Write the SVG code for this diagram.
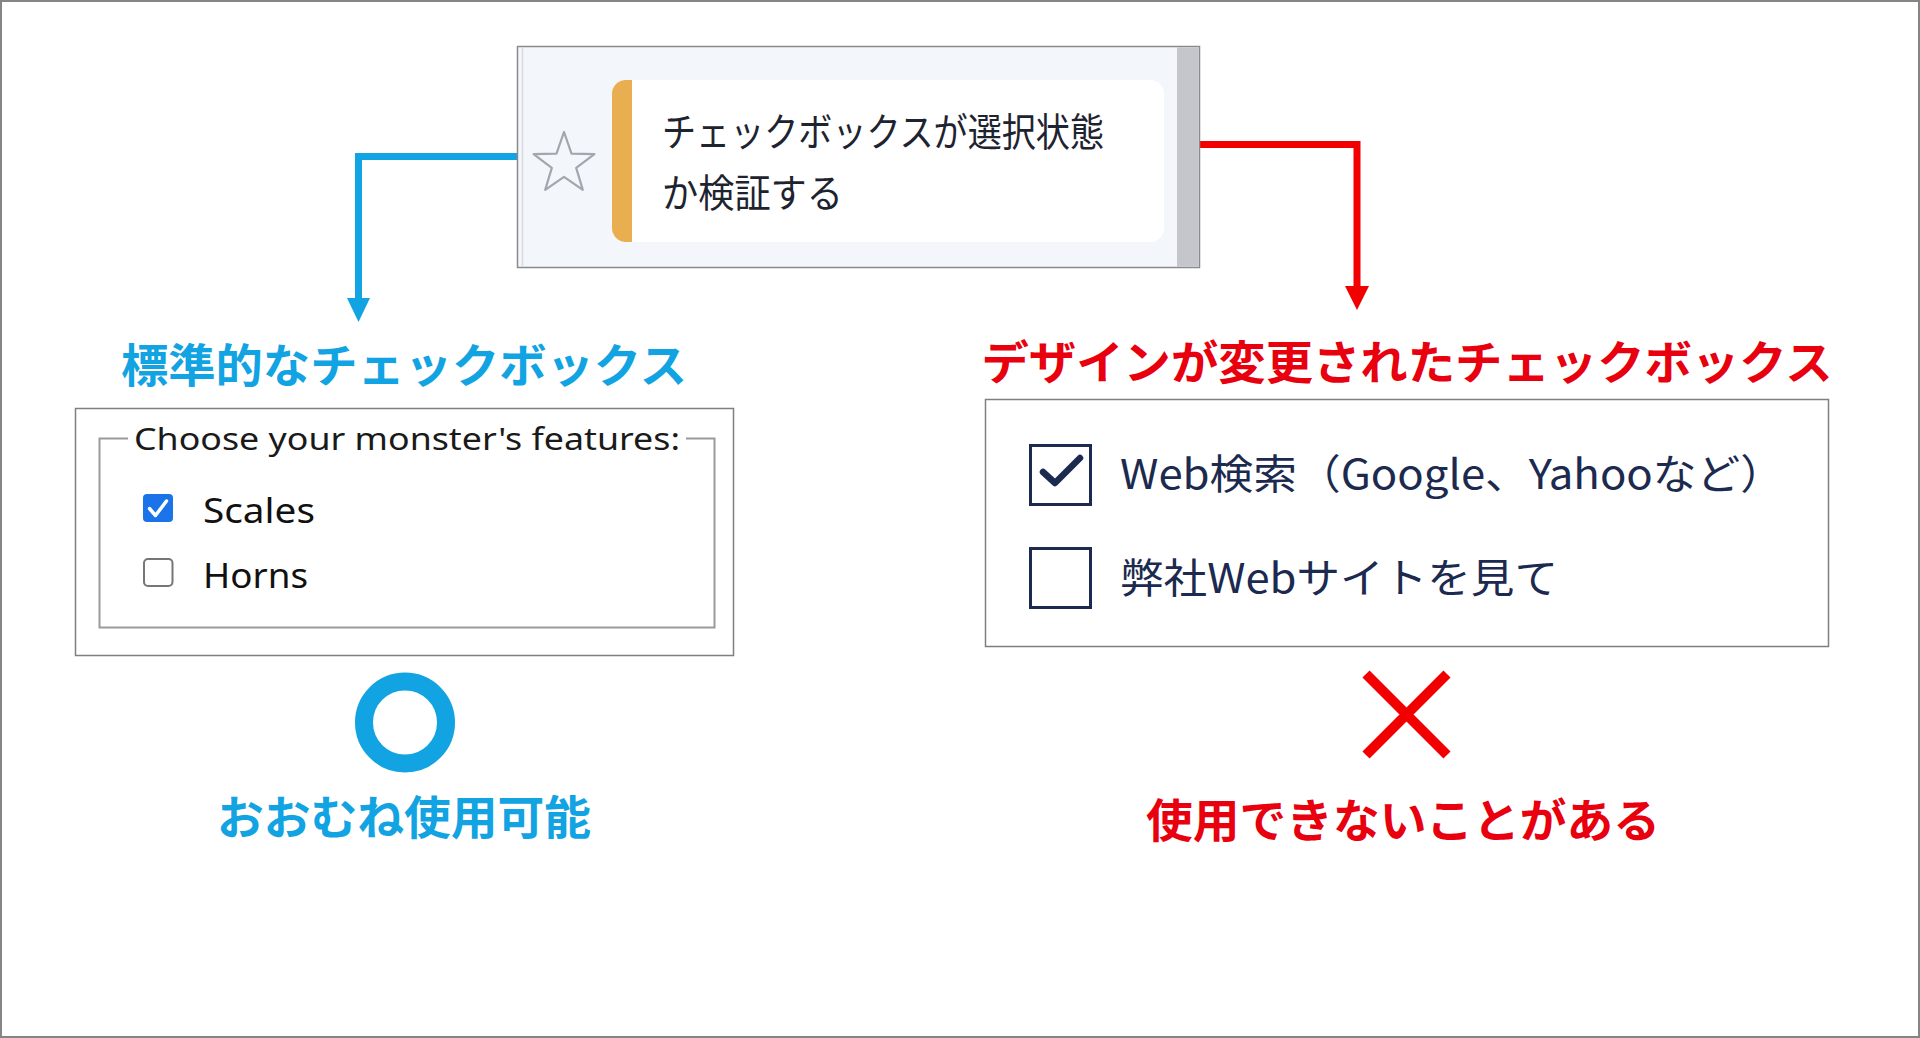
<svg xmlns="http://www.w3.org/2000/svg" width="1920" height="1038" viewBox="0 0 1920 1038">
<defs>
<style>
.jp{font-family:"Noto Sans CJK JP","Noto Sans",sans-serif;}
.en{font-family:"Noto Sans","Liberation Sans",sans-serif;}
.title{font-size:46px;font-weight:bold;}
.blue{fill:#12a3e2;}
.red{fill:#e8000f;}
.navy{fill:#1c2a4f;}
.panel{fill:#ffffff;stroke:#7f7f7f;stroke-width:1.5;}
</style>
<marker id="arrBlue" markerUnits="userSpaceOnUse" markerWidth="24" markerHeight="24" refX="0" refY="11.5" orient="auto" viewBox="0 0 24 23">
<path d="M0,0 L24,11.5 L0,23 Z" fill="#12a3e2"/>
</marker>
<marker id="arrRed" markerUnits="userSpaceOnUse" markerWidth="24" markerHeight="24" refX="0" refY="12" orient="auto" viewBox="0 0 24 24">
<path d="M0,0 L24,12 L0,24 Z" fill="#f20000"/>
</marker>
</defs>
<rect x="0" y="0" width="1920" height="1038" fill="#ffffff"/>
<rect x="1" y="1" width="1918" height="1036" fill="none" stroke="#858585" stroke-width="2"/>

<g id="connectors" fill="none" stroke-width="7">
<path d="M517,156.5 H358.5 V298" stroke="#12a3e2" marker-end="url(#arrBlue)"/>
<path d="M1197,144.5 H1357 V286" stroke="#f20000" marker-end="url(#arrRed)"/>
</g>

<g id="task-card">
<rect x="517.5" y="46.5" width="682" height="221" fill="#f3f6fb" stroke="#8a8a8a" stroke-width="1.5"/>
<line x1="522.5" y1="47" x2="522.5" y2="267" stroke="#d6d8dd" stroke-width="1.5"/>
<rect x="1177" y="47.3" width="21.7" height="219.5" fill="#c4c6cc"/>
<rect x="612" y="80" width="552" height="162" rx="14" fill="#ffffff"/>
<path d="M632,80 V242 H626 A14,14 0 0 1 612,228 V94 A14,14 0 0 1 626,80 Z" fill="#e8ae4f"/>
<polygon points="564,132 571.5,153.6 594.4,154.1 576.2,167.9 582.8,189.9 564,176.8 545.2,189.9 551.8,167.9 533.6,154.1 556.5,153.6" fill="none" stroke="#a2a6ae" stroke-width="2.2" stroke-linejoin="round"/>
<text class="jp" x="662" y="146" font-size="39" fill="#1e2330" textLength="442" lengthAdjust="spacingAndGlyphs">チェックボックスが選択状態</text>
<text class="jp" x="662" y="207" font-size="39" fill="#1e2330" textLength="181" lengthAdjust="spacingAndGlyphs">か検証する</text>
</g>

<g id="standard-checkbox">
<text class="jp title blue" x="404" y="382" text-anchor="middle" textLength="566" lengthAdjust="spacingAndGlyphs">標準的なチェックボックス</text>
<rect class="panel" x="75.5" y="408.5" width="658" height="247"/>
<rect x="99.5" y="438.5" width="615" height="189" fill="none" stroke="#9a9a9a" stroke-width="2"/>
<rect x="128" y="425" width="558" height="30" fill="#ffffff"/>
<text class="en" x="134" y="450" font-size="31" fill="#1a1a1a" textLength="546" lengthAdjust="spacingAndGlyphs">Choose your monster's features:</text>
<rect x="143" y="494" width="30" height="28" rx="4" fill="#1a73e8"/>
<path d="M149.5,508.5 L155.5,515.5 L166.5,501" fill="none" stroke="#ffffff" stroke-width="3.5" stroke-linecap="round" stroke-linejoin="round"/>
<text class="en" x="203" y="523" font-size="35" fill="#111111" textLength="112" lengthAdjust="spacingAndGlyphs">Scales</text>
<rect x="144" y="559" width="28.5" height="27" rx="4" fill="#ffffff" stroke="#767676" stroke-width="2"/>
<text class="en" x="203" y="588" font-size="35" fill="#111111" textLength="105" lengthAdjust="spacingAndGlyphs">Horns</text>
</g>

<g id="custom-checkbox">
<text class="jp title red" x="1407" y="378.5" text-anchor="middle" textLength="851" lengthAdjust="spacingAndGlyphs">デザインが変更されたチェックボックス</text>
<rect class="panel" x="985.5" y="399.5" width="843" height="247"/>
<rect x="1030.5" y="445.5" width="60" height="59" fill="#ffffff" stroke="#1c2a4f" stroke-width="3"/>
<path d="M1043,472 L1055,483 L1080,458" fill="none" stroke="#1c2a4f" stroke-width="6.5" stroke-linecap="round" stroke-linejoin="round"/>
<text class="jp navy" x="1120" y="489" font-size="41" textLength="664" lengthAdjust="spacingAndGlyphs">Web検索（Google、Yahooなど）</text>
<rect x="1030.5" y="548.5" width="60" height="59" fill="#ffffff" stroke="#1c2a4f" stroke-width="3"/>
<text class="jp navy" x="1120" y="593" font-size="41" textLength="438" lengthAdjust="spacingAndGlyphs">弊社Webサイトを見て</text>
</g>

<g id="ok-result">
<circle cx="405" cy="722.5" r="41" fill="none" stroke="#12a3e2" stroke-width="18"/>
<text class="jp title blue" x="404" y="834" text-anchor="middle" textLength="374" lengthAdjust="spacingAndGlyphs">おおむね使用可能</text>
</g>

<g id="ng-result">
<path d="M1366,674 L1447,755 M1447,674 L1366,755" fill="none" stroke="#f20000" stroke-width="10"/>
<text class="jp title red" x="1403" y="837" text-anchor="middle" textLength="514" lengthAdjust="spacingAndGlyphs">使用できないことがある</text>
</g>
</svg>
